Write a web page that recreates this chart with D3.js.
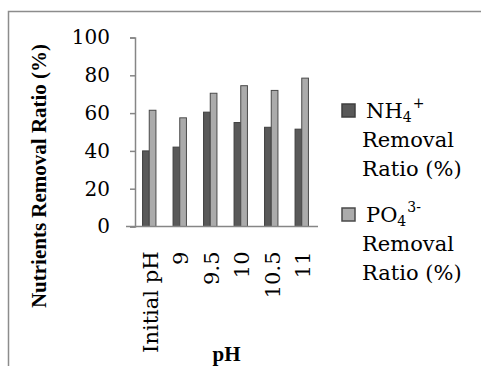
<!DOCTYPE html>
<html>
<head>
<meta charset="utf-8">
<script src="https://cdn.jsdelivr.net/npm/d3@7"></script>
<style>
	html, body { margin: 0; padding: 0; background: #fff; }
	svg { display: block; }
</style>
</head>
<body>
<div id="chart"></div>
<script>
const categories = ["Initial pH", "9", "9.5", "10", "10.5", "11"];
const seriesNames = ["NH4", "PO4"];
const nh4Removal = [40, 42, 60.5, 55, 52.5, 51.5];
const po4Removal = [61.5, 57.5, 70.5, 74.5, 72, 78.5];
const yTicks = [0, 20, 40, 60, 80, 100];

const width = 481;
const height = 366;

const margin = { top: 37.5, bottom: 139.5, left: 135, right: 163 };

const serif = "'DejaVu Serif', serif";
const boldSerif = "'Liberation Serif', 'Times New Roman', serif";

const rows = categories.map((c, i) => ({ cat: c, NH4: nh4Removal[i], PO4: po4Removal[i] }));

const fills = { NH4: "#595959", PO4: "#ababab" };
const strokes = { NH4: "#3f3f3f", PO4: "#4a4a4a" };

const svg = d3
	.select("#chart")
	.append("svg")
	.attr("width", width)
	.attr("height", height)
	.attr("viewBox", [0, 0, width, height]);

// outer frame (only top and left edges visible)
svg.append("path")
	.attr("d", "M8.5,366 V11.5 H481")
	.attr("fill", "none")
	.attr("stroke", "#8c8c8c")
	.attr("stroke-width", 1.5);

const x0 = d3
	.scaleBand()
	.domain(categories)
	.range([margin.left, width - margin.right])
	.paddingInner(0)
	.paddingOuter(0);

const x1 = d3
	.scaleBand()
	.domain(seriesNames)
	.range([0, x0.bandwidth()])
	.paddingInner(0)
	.paddingOuter(1.28);

const y = d3
	.scaleLinear()
	.domain([0, 100])
	.range([height - margin.bottom, margin.top]);

// bars
svg.append("g")
	.selectAll("g")
	.data(rows)
	.join("g")
	.attr("transform", (d) => `translate(${x0(d.cat) - 1},0)`)
	.selectAll("rect")
	.data((d) => seriesNames.map((s) => ({ key: s, value: d[s] })))
	.join("rect")
	.attr("x", (d) => x1(d.key))
	.attr("y", (d) => y(d.value))
	.attr("width", x1.bandwidth())
	.attr("height", (d) => y(0) - y(d.value))
	.attr("fill", (d) => fills[d.key])
	.attr("stroke", (d) => strokes[d.key])
	.attr("stroke-width", 1);

// y axis
const yAxis = svg.append("g")
	.attr("transform", `translate(${margin.left},0)`)
	.call(d3.axisLeft(y).tickValues(yTicks).tickSize(5).tickPadding(20).tickFormat(d3.format("d")));
yAxis.select(".domain").attr("stroke", "#868686").attr("stroke-width", 1.5);
yAxis.selectAll(".tick line").attr("stroke", "#868686").attr("stroke-width", 1.5);
yAxis.selectAll(".tick text")
	.attr("fill", "#000")
	.style("font-family", serif)
	.style("font-size", "20px");

// x axis
const xAxis = svg.append("g")
	.attr("transform", `translate(0,${y(0)})`)
	.call(d3.axisBottom(x0).tickSize(0).tickSizeOuter(0).tickPadding(0));
xAxis.select(".domain")
	.attr("d", `M${margin.left - 9},0H${width - margin.right}`)
	.attr("stroke", "#868686")
	.attr("stroke-width", 1.5);
xAxis.selectAll(".tick text")
	.attr("fill", "#000")
	.attr("text-anchor", "end")
	.attr("transform", "rotate(-90)")
	.attr("x", -25)
	.attr("y", 0)
	.attr("dy", "0.36em")
	.style("font-family", serif)
	.style("font-size", "21px");

// axis titles
svg.append("text")
	.attr("transform", "translate(46,176) rotate(-90)")
	.attr("text-anchor", "middle")
	.style("font-family", boldSerif)
	.style("font-weight", "bold")
	.style("font-size", "21px")
	.text("Nutrients Removal Ratio (%)");

svg.append("text")
	.attr("x", (margin.left + width - margin.right) / 2)
	.attr("y", 361)
	.attr("text-anchor", "middle")
	.style("font-family", boldSerif)
	.style("font-weight", "bold")
	.style("font-size", "21px")
	.text("pH");

// legend
const legendItems = [
	{ key: "NH4", top: 118, base: "NH", sub: "4", sup: "+" },
	{ key: "PO4", top: 222, base: "PO", sub: "4", sup: "3-" },
];

const legend = svg.append("g").style("font-family", serif).style("font-size", "21px");

legendItems.forEach((item) => {
	const g = legend.append("g");
	g.append("rect")
		.attr("x", 342)
		.attr("y", item.top - 14)
		.attr("width", 13)
		.attr("height", 13)
		.attr("fill", fills[item.key])
		.attr("stroke", strokes[item.key])
		.attr("stroke-width", 1.5);
	const t = g.append("text").attr("x", 366).attr("y", item.top);
	t.append("tspan").text(item.base);
	t.append("tspan").attr("dy", 4).style("font-size", "14px").text(item.sub);
	t.append("tspan").attr("dy", -14).attr("dx", 1).style("font-size", "14px").text(item.sup);
	g.append("text").attr("x", 362).attr("y", item.top + 29).text("Removal");
	g.append("text").attr("x", 362).attr("y", item.top + 58).text("Ratio (%)");
});
</script>
</body>
</html>
